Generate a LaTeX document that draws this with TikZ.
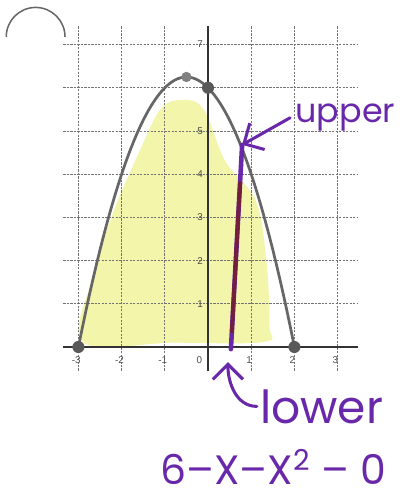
\documentclass[tikz,border=0pt]{standalone}
\usepackage{fontspec}
\newfontfamily\handfont{Poppins}
\newfontfamily\tickfont{Liberation Sans}
\usepackage{tikz}
\usetikzlibrary{arrows.meta,positioning,calc}
\definecolor{penpurple}{RGB}{105,40,170}
\definecolor{penbrown}{RGB}{115,30,60}
\definecolor{hilite}{RGB}{242,245,170}
\tikzset{
  gridln/.style={black!55,line width=0.6pt,dash pattern=on 1.5pt off 0.8pt},
  axisln/.style={black!80,line width=0.8pt},
  ticklbl/.style={font=\tickfont\fontsize{6.5}{7}\selectfont,text=black!70,
    inner sep=0.5pt},
  curveln/.style={black!60,line width=1.8pt,line cap=round},
  ptdot/.style={circle,fill=black!65,inner sep=0pt,minimum size=2.8mm},
  handtxt/.style={font=\handfont\fontsize{22}{24}\selectfont,text=penpurple},
  handarr/.style={-{Straight Barb[length=3.5mm,width=7mm]},penpurple,
    line width=2pt,line cap=round},
  penln/.style={penpurple,line width=3pt,line cap=round},
}
\begin{document}
\begin{tikzpicture}
  \useasboundingbox (-4.815,-3.472) rectangle (4.676,8.032);
  \fill[hilite] plot[smooth cycle,tension=0.6] coordinates {(-2.9,0.12)
    (-2.6,1.8) (-2.2,3.1) (-1.6,4.5) (-1.1,5.5) (-0.6,5.72) (-0.1,5.5)
    (0.4,4.3) (1.1,3.4) (1.35,2) (1.42,0.5) (1.3,0.12) (-0.8,0.1)};
  \draw[black!60,line width=1pt] (-4.67,7.18) arc[start angle=180,
    end angle=0,radius=0.68];
  \foreach \x in {-3,-2,-1,1,2,3} \draw[gridln] (\x,-0.55) -- (\x,7.45);
  \foreach \y in {1,...,7} \draw[gridln] (-3.35,\y) -- (3.47,\y);
  \draw[axisln] (-3.35,0) -- (3.47,0);
  \draw[axisln] (0,-0.55) -- (0,7.42);
  \foreach \y in {1,2,3,4,5,7} \node[ticklbl] (yl\y) at (-0.18,\y) {\y};
  \foreach \x in {-3,-2,-1,1,2,3}
    \node[ticklbl] (xl\x) at (\x-0.05,-0.3) {\x};
  \node[ticklbl] (xl0) at (-0.2,-0.3) {0};
  \draw[curveln] plot[domain=-3:2,samples=60] (\x,{6-\x-\x*\x});
  \node[ptdot] (p1) at (-3,0) {};
  \node[ptdot] (p2) at (2,0) {};
  \node[ptdot] (p3) at (0,6) {};
  \node[ptdot,fill=black!50,minimum size=2.4mm] (p4) at (-0.5,6.25) {};
  \coordinate (ubot) at (0.53,-0.05);
  \coordinate (utop) at (0.79,4.68);
  \draw[penln] (ubot) -- (utop);
  \draw[penbrown,line width=2.6pt] ($(ubot)!0.08!(utop)$) -- ($(ubot)!0.82!(utop)$);
  \node[handtxt,anchor=base west] (upper) at (1.9,5.19) {upper};
  \draw[handarr] (upper.west) -- (utop);
  \coordinate (ltip) at (0.46,-0.35);
  \node[handtxt,font=\handfont\fontsize{30}{32}\selectfont,anchor=base west,
    inner xsep=2pt] (lower) at (1.13,-1.76) {lower};
  \draw[handarr] (lower.west) to[out=180,in=-90] (ltip);
  \node[handtxt,font=\handfont\fontsize{27}{29}\selectfont,anchor=base west,
    inner ysep=0pt,text depth=0pt] (diff) at (-1.22,-3.18)
    {6–X–X\textsuperscript{2} – 0};
\end{tikzpicture}
\end{document}
